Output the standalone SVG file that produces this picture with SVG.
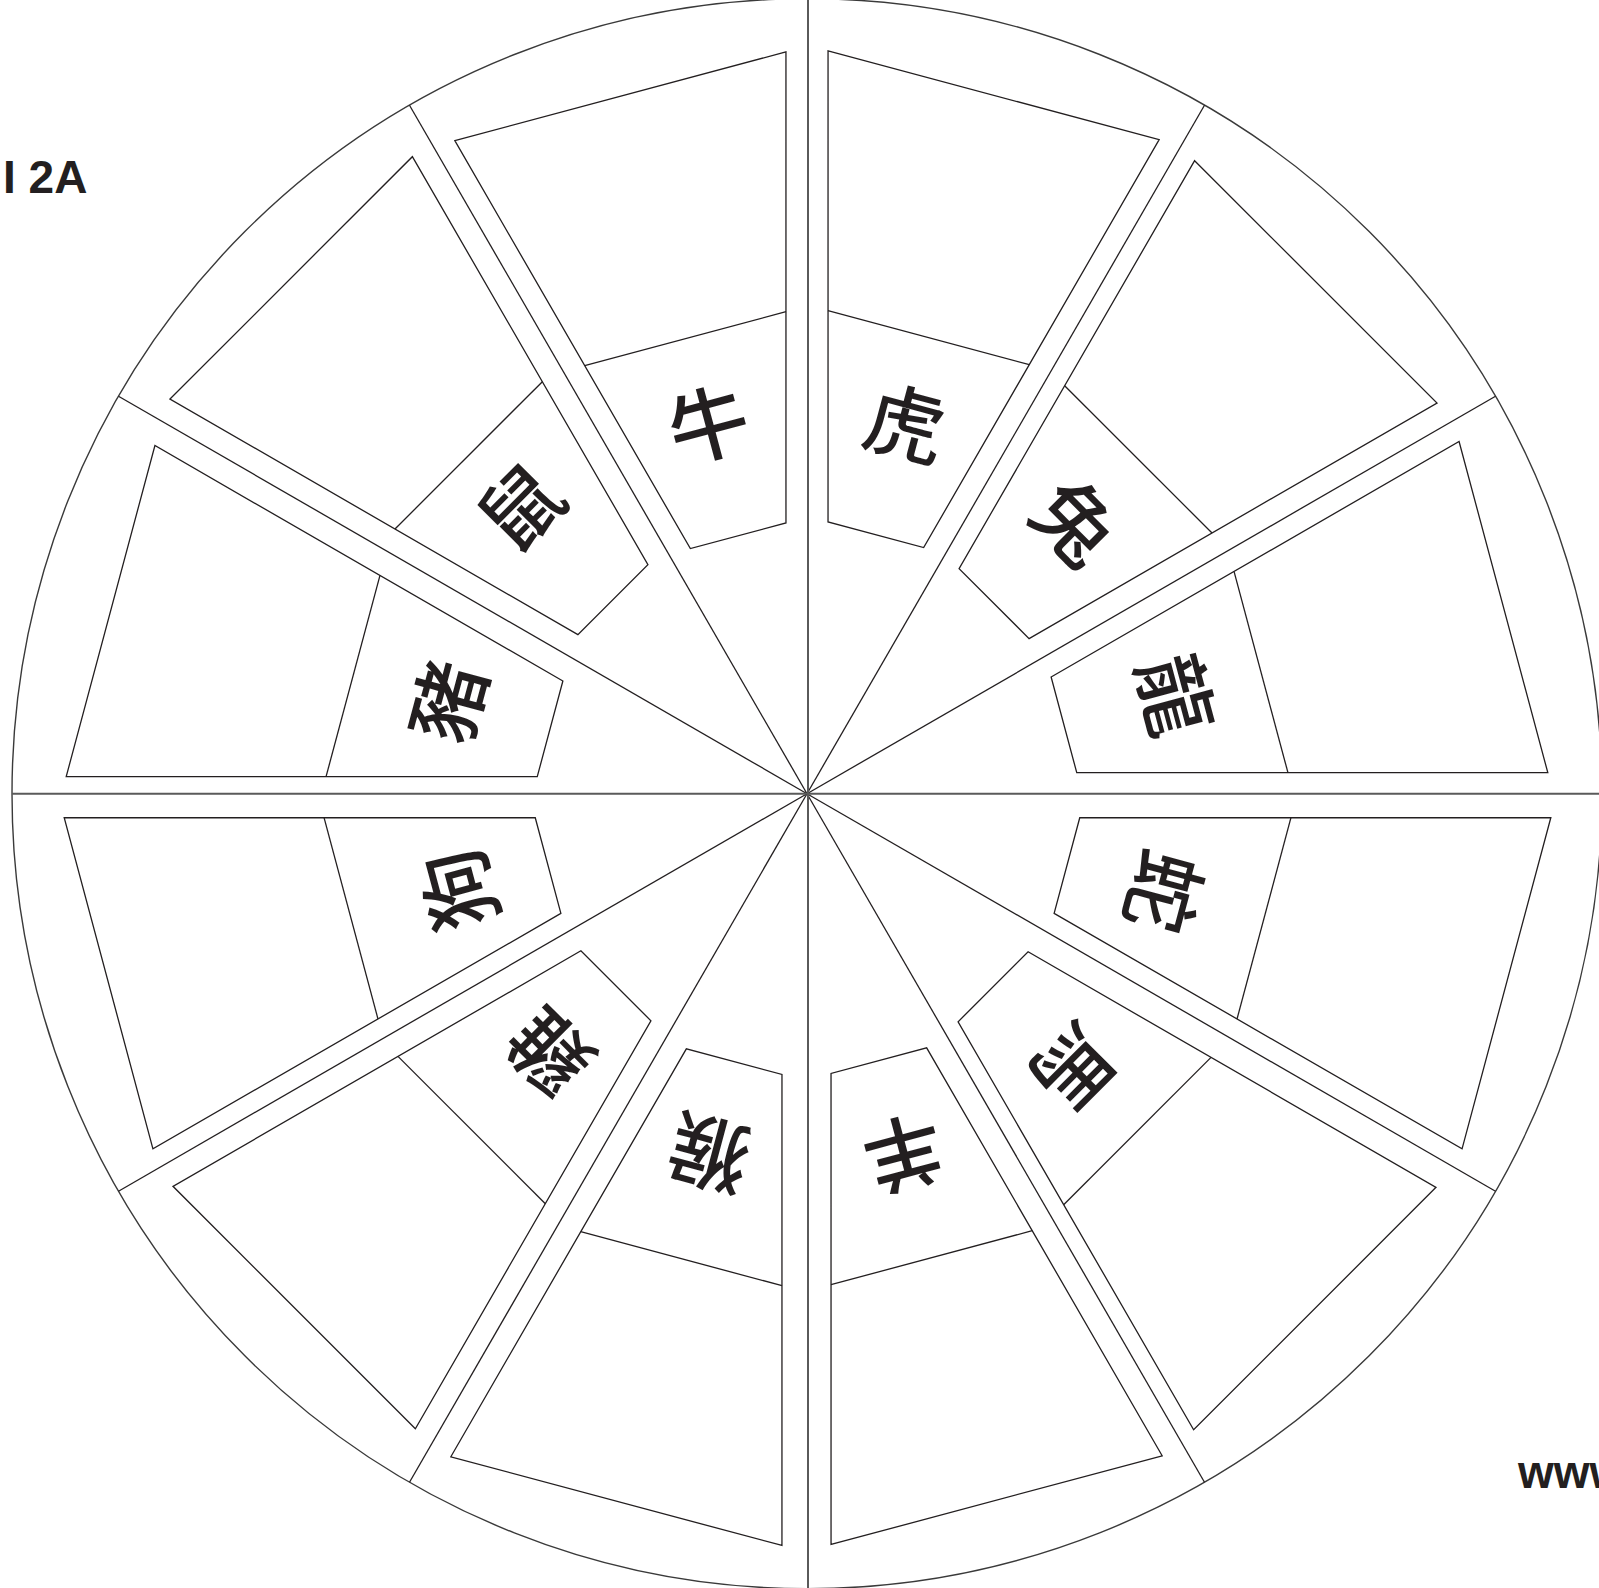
<svg xmlns="http://www.w3.org/2000/svg" width="1599" height="1588" viewBox="0 0 1599 1588">
  <style>
    .card { fill: #ffffff; stroke: #231f20; stroke-width: 1.3; stroke-linejoin: miter; }
    .div { fill: none; stroke: #231f20; stroke-width: 1.3; }
    .ray { stroke: #231f20; stroke-width: 1.3; }
    .axis { stroke: #5a5a5a; stroke-width: 2; }
    .rim { fill: #ffffff; stroke: #3a3a3a; stroke-width: 1.4; }
    .zh { font-family: "Noto Sans CJK TC", "Noto Sans CJK SC", sans-serif; font-size: 80px; font-weight: 500; fill: #231f20; text-anchor: middle; dominant-baseline: central; }
    .lbl { font-family: "Liberation Sans", "DejaVu Sans", sans-serif; font-weight: bold; font-size: 46px; fill: #231f20; }
  </style>
  <defs>
    <g id="cardShape">
      <polygon class="card" points="-171.4,-721 171.4,-721 49.5,-266 -49.5,-266"/>
      <line class="div" x1="-104.2" y1="-470" x2="104.2" y2="-470"/>
    </g>
  </defs>
  <rect width="1599" height="1588" fill="#ffffff"/>
  <circle class="rim" cx="807" cy="793.7" r="795"/>
  <g id="connectors">
    <g transform="translate(807,793.7)">
      <line class="ray" x1="0" y1="0" x2="688.5" y2="-397.5"/>
      <line class="ray" x1="0" y1="0" x2="397.5" y2="-688.5"/>
      <line class="ray" x1="0" y1="0" x2="-397.5" y2="-688.5"/>
      <line class="ray" x1="0" y1="0" x2="-688.5" y2="-397.5"/>
      <line class="ray" x1="0" y1="0" x2="-688.5" y2="397.5"/>
      <line class="ray" x1="0" y1="0" x2="-397.5" y2="688.5"/>
      <line class="ray" x1="0" y1="0" x2="397.5" y2="688.5"/>
      <line class="ray" x1="0" y1="0" x2="688.5" y2="397.5"/>
    </g>
    <line class="axis" x1="808" y1="0" x2="808" y2="1588"/>
    <line class="axis" x1="12" y1="793.7" x2="1599" y2="793.7"/>
  </g>
  <g id="node-ox" transform="translate(807,792.7) rotate(-15)">
    <use href="#cardShape"/>
    <text class="zh" x="0" y="-386">牛</text>
  </g>
  <g id="node-tiger" transform="translate(807,791.7) rotate(15)">
    <use href="#cardShape"/>
    <text class="zh" x="0" y="-386">虎</text>
  </g>
  <g id="node-rabbit" transform="translate(806,791.7) rotate(45)">
    <use href="#cardShape"/>
    <text class="zh" x="0" y="-386">兔</text>
  </g>
  <g id="node-dragon" transform="translate(807,793.7) rotate(75)">
    <use href="#cardShape"/>
    <text class="zh" x="0" y="-386">龍</text>
  </g>
  <g id="node-snake" transform="translate(810,796.7) rotate(105)">
    <use href="#cardShape"/>
    <text class="zh" x="0" y="-371">蛇</text>
  </g>
  <g id="node-horse" transform="translate(805,798.7) rotate(135)">
    <use href="#cardShape"/>
    <text class="zh" x="0" y="-386">馬</text>
  </g>
  <g id="node-sheep" transform="translate(810,803.7) rotate(165)">
    <use href="#cardShape"/>
    <text class="zh" x="0" y="-367">羊</text>
  </g>
  <g id="node-monkey" transform="translate(803,804.7) rotate(195)">
    <use href="#cardShape"/>
    <text class="zh" x="0" y="-366">猴</text>
  </g>
  <g id="node-rooster" transform="translate(804,797.7) rotate(225)">
    <use href="#cardShape"/>
    <text class="zh" x="0" y="-365">雞</text>
  </g>
  <g id="node-dog" transform="translate(805,796.7) rotate(255)">
    <use href="#cardShape"/>
    <text class="zh" x="0" y="-363">狗</text>
  </g>
  <g id="node-pig" transform="translate(807,797.7) rotate(285)">
    <use href="#cardShape"/>
    <text class="zh" x="0" y="-376">豬</text>
  </g>
  <g id="node-rat" transform="translate(801,787.7) rotate(315)">
    <use href="#cardShape"/>
    <text class="zh" x="0" y="-401">鼠</text>
  </g>
  <g id="labels">
    <text class="lbl" x="3" y="193">I 2A</text>
    <text class="lbl" x="1518" y="1488">www</text>
  </g>
</svg>
